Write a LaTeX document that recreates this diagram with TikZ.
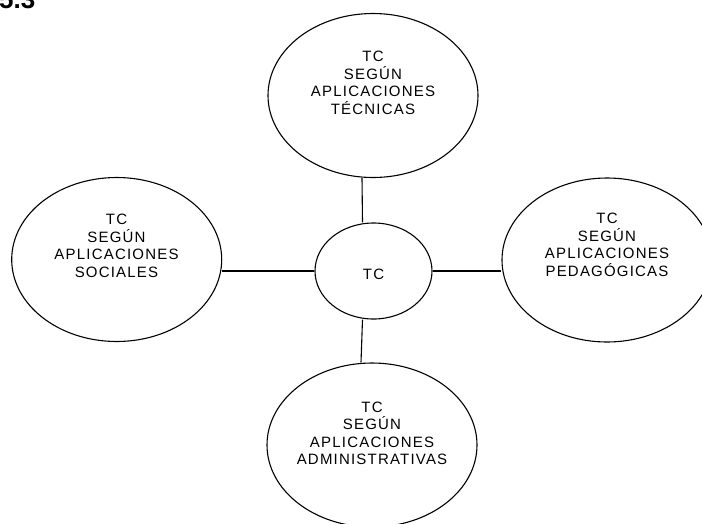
\documentclass[tikz,border=0pt]{standalone}
\usepackage{fontspec}
\setmainfont{Liberation Sans}[LetterSpace=8]
\newfontfamily\headfont{Liberation Sans}[Scale=1]
\usetikzlibrary{shapes.geometric}
\tikzset{
  bubble/.style={draw, ellipse, line width=1.1pt, inner sep=0pt},
  bigbubble/.style={bubble, minimum width=210pt, minimum height=164pt},
  label text/.style={align=center, inner sep=0pt, font=\fontsize{15}{17.5}\selectfont},
  link/.style={draw, line width=1.1pt}
}
\begin{document}
\begin{tikzpicture}[x=1pt, y=-1pt]
\useasboundingbox (0,0) rectangle (702,523);
% partially visible heading
\node[anchor=base west, inner sep=0pt, font=\headfont\bfseries\fontsize{26}{30}\selectfont] (head) at (-1,8) {5.3};
% ellipses
\node[bigbubble] (top) at (373,95.5) {};
\node[bubble, minimum width=117pt, minimum height=96pt] (mid) at (373.5,271) {};
\node[bigbubble] (bot) at (372,445) {};
\node[bigbubble] (left) at (116.7,259.5) {};
\node[bigbubble] (right) at (607,260) {};
% texts
\node[label text] (toptext) at (373,83) {TC\\SEGÚN\\APLICACIONES\\TÉCNICAS};
\node[label text] (midtext) at (373.5,274) {TC};
\node[label text] (bottext) at (372,433.5) {TC\\SEGÚN\\APLICACIONES\\ADMINISTRATIVAS};
\node[label text] (lefttext) at (116.5,246) {TC\\SEGÚN\\APLICACIONES\\SOCIALES};
\node[label text] (righttext) at (607,245) {TC\\SEGÚN\\APLICACIONES\\PEDAGÓGICAS};
% connectors
\draw[link] ([xshift=-11pt]top.south) -- ([xshift=-11pt]mid.north);
\draw[link] ([xshift=-11pt]mid.south) -- ([xshift=-11pt]bot.north);
\draw[link] ([yshift=-11.5pt]left.east) -- (mid.west);
\draw[link] (mid.east) -- ([yshift=-11pt]right.west);
\end{tikzpicture}
\end{document}
